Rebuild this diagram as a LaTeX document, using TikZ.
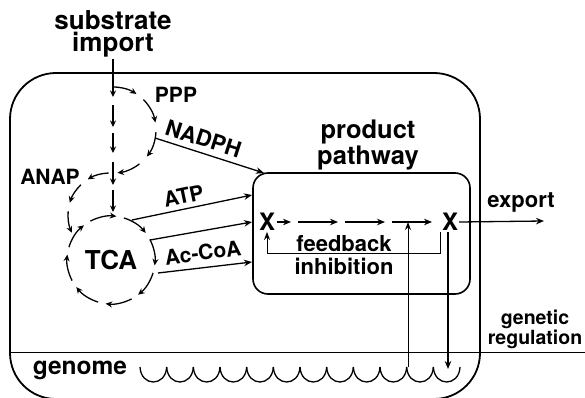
\documentclass[tikz,border=0pt]{standalone}
\usepackage{fontspec}
\setmainfont{TeX Gyre Heros}
\usetikzlibrary{arrows.meta}
\begin{document}
\begin{tikzpicture}[x=1pt,y=-1pt,
  txt/.style={inner sep=0pt, align=center},
  fbig/.style={txt, font=\bfseries\fontsize{26}{22}\selectfont},
  fmid/.style={txt, font=\bfseries\fontsize{22}{23}\selectfont},
  fsmall/.style={txt, font=\bfseries\fontsize{21}{21}\selectfont},
  freg/.style={txt, font=\bfseries\fontsize{19.5}{19.5}\selectfont},
  cyc/.style={line width=1.3pt, -{Stealth[length=6.5pt,width=6pt]}},
  flux/.style={line width=1.3pt, -{Stealth[length=8pt,width=6.5pt]}},
  thinarr/.style={line width=1pt, -{Stealth[length=8pt,width=6pt]}},
  cell/.style={line width=1.8pt},
]
\useasboundingbox (0,0) rectangle (585,398);
% cell outline
\begin{scope}
  \clip (0,0) rectangle (585,398);
  \draw[cell, rounded corners=46pt] (10,73) rectangle (480,399);
\end{scope}
% genome
\coordinate (gl) at (10,352);
\coordinate (gr) at (585,352);
\draw[line width=1pt] (gl) -- (gr);
\foreach \i in {0,...,11}
  \draw[line width=1.3pt] ({140+26.667*\i},367) .. controls ({141+26.667*\i},387) and ({165.667+26.667*\i},387) .. ({166.667+26.667*\i},367);
\node[fbig, font=\bfseries\fontsize{24.5}{22}\selectfont] (genome) at (80,370.5) {genome};
\node[freg] (genreg) at (535,329.5) {genetic\\regulation};

% substrate import
\node[fbig] (sub) at (113,33.5) {substrate\\import};
\coordinate (v1) at (113,97);
\coordinate (v2) at (113,105);
\coordinate (v3) at (113,127);
\coordinate (v4) at (113,133);
\coordinate (v5) at (113,153);
\coordinate (v6) at (113,162);
\coordinate (v7) at (113,185);
\coordinate (v8) at (113,190);
\coordinate (v9) at (113,212);
\draw[cyc, shorten <=2pt] (sub.south) -- (v1);
\draw[cyc] (v2) -- (v3);
\draw[cyc] (v4) -- (v5);
\draw[cyc] (v6) -- (v7);
\draw[cyc] (v8) -- (v9);

% PPP cycle
\coordinate (ppp) at (113,130);
\foreach \a/\b in {-90/-57, -45/-10, 3/38, 52/84}
  \draw[cyc] (ppp) ++(\a:43) arc[start angle=\a, end angle=\b, radius=43];
\node[fsmall] (PPP) at (176,95) {PPP};

% ANAP cycle
\coordinate (anap) at (110,215);
\foreach \a/\b in {268/238, 226/197, 185/155}
  \draw[cyc] (anap) ++(\a:42) arc[start angle=\a, end angle=\b, radius=42];
\node[fsmall] (ANAP) at (50,177) {ANAP};

% TCA cycle
\node[fbig] (TCA) at (111,260) {TCA};
\foreach \a in {-118,-73,-28,17,62,107,152,197}
  \draw[cyc] (TCA.center) ++(\a:44) arc[start angle=\a, end angle=\a+35, radius=44];

% product pathway
\draw[line width=1.6pt, rounded corners=15pt] (253,173) rectangle (470,294);
\node[fbig, font=\bfseries\fontsize{25.5}{23}\selectfont] (prod) at (368,145) {product\\pathway};
\node[txt, font=\bfseries\fontsize{24}{24}\selectfont, inner sep=1pt] (X1) at (267,222) {X};
\node[txt, font=\bfseries\fontsize{24}{24}\selectfont, inner sep=1pt] (X2) at (450,222) {X};
\coordinate (a1) at (277,222);
\coordinate (a2) at (291,222);
\coordinate (a3) at (298,222);
\coordinate (a4) at (338,222);
\coordinate (a5) at (345,222);
\coordinate (a6) at (385,222);
\coordinate (a7) at (392,222);
\coordinate (a8) at (432,222);
\draw[flux] (a1) -- (a2);
\draw[flux] (a3) -- (a4);
\draw[flux] (a5) -- (a6);
\draw[flux] (a7) -- (a8);
\node[fmid] (fb) at (344,255) {feedback\\inhibition};
\coordinate (fbA) at (440,232);
\coordinate (fbB) at (267,253);
\draw[thinarr] (fbA) |- (fbB) -- (X1.south);

% regulation lines
\coordinate (g1) at (408,367);
\coordinate (g1t) at (408,222);
\draw[thinarr] (g1) -- (g1t);
\coordinate (g2a) at (448,232);
\coordinate (g2) at (448,369);
\draw[flux, line width=1.6pt] (g2a) -- (g2);

% export
\coordinate (ex) at (544,221);
\draw[flux] (X2.east) -- (ex);
\node[fmid] (export) at (521,202.5) {export};

% cofactor arrows
\coordinate (n0) at (155,138);
\coordinate (n1) at (264,173);
\draw[flux] (n0) -- (n1);
\node[fsmall, font=\bfseries\fontsize{22}{22}\selectfont, rotate=-17.7] (NADPH) at (203.5,138.5) {NADPH};
\coordinate (t0) at (132,220);
\coordinate (t1) at (252,195);
\draw[flux] (t0) -- (t1);
\node[fsmall, rotate=11.8] (ATP) at (183.5,196) {ATP};
\coordinate (m0) at (150,240);
\coordinate (m1) at (252,222);
\draw[flux] (m0) -- (m1);
\coordinate (c0) at (158,273);
\coordinate (c1) at (252,262);
\draw[flux] (c0) -- (c1);
\node[fsmall, rotate=7.5] (AcCoA) at (203,252.5) {Ac-CoA};
\end{tikzpicture}
\end{document}
